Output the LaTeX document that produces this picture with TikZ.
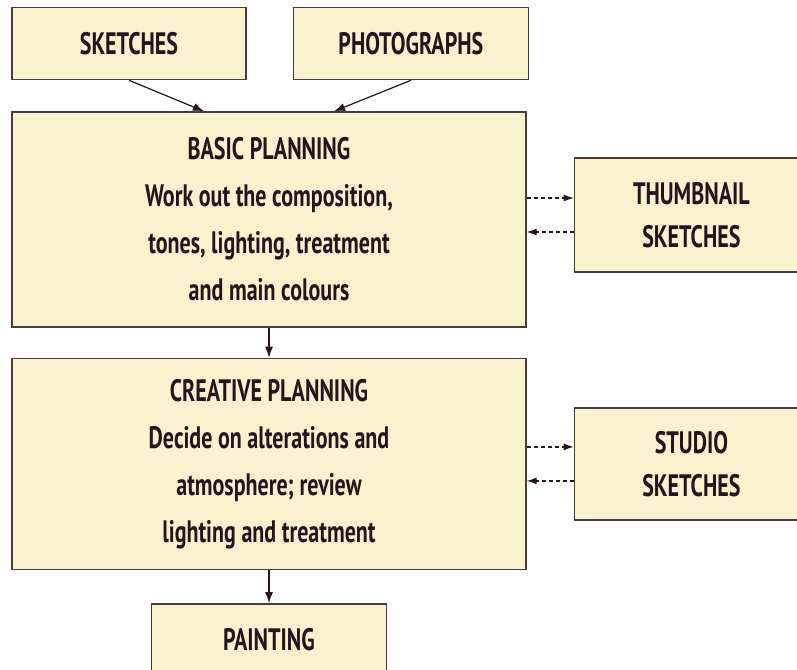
\documentclass[tikz,border=0pt]{standalone}
\usepackage{fontspec}
\setmainfont{PT Sans}[FakeStretch=0.71]
\usetikzlibrary{positioning,arrows.meta}
\definecolor{boxfill}{RGB}{250,242,206}
\definecolor{boxline}{RGB}{70,60,62}
\definecolor{inkdark}{RGB}{38,20,28}

\begin{document}
\begin{tikzpicture}[x=1pt, y=-1pt,
  every node/.style={font=\bfseries\fontsize{31}{47}\selectfont, text=inkdark},
  box/.style={draw=boxline, fill=boxfill, line width=1.4pt, align=center, inner sep=0pt},
  sidebox/.style={box, font=\bfseries\fontsize{31}{43}\selectfont, minimum width=234pt},
  flow/.style={-{Latex[length=11pt,width=8pt]}, draw=inkdark, line width=1.2pt},
  dasharrow/.style={-{Latex[length=10pt,width=7pt]}, draw=inkdark, line width=1.2pt, dash pattern=on 4pt off 3pt}]
  \useasboundingbox (0,0) rectangle (797,669);

  % main column
  \node[box, minimum width=514pt, minimum height=215pt] (basic) at (269,219.5)
    {BASIC PLANNING\\Work out the composition,\\tones, lighting, treatment\\and main colours};
  \node[box, minimum width=234pt, minimum height=72pt, above right=31pt and 0pt of basic.north west] (sketches) {SKETCHES};
  \node[box, minimum width=235pt, minimum height=72pt, right=46pt of sketches] (photos) {PHOTOGRAPHS};
  \node[box, minimum width=514pt, minimum height=211pt, below=30pt of basic] (creative)
    {CREATIVE PLANNING\\Decide on alterations and\\atmosphere; review\\lighting and treatment};
  \node[box, minimum width=235pt, minimum height=72pt, below=33pt of creative] (painting) {PAINTING};

  % side boxes
  \node[sidebox, minimum height=114pt, right=47pt of basic, yshift=4.5pt] (thumb) {THUMBNAIL\\SKETCHES};
  \node[sidebox, minimum height=112pt, right=47pt of creative] (studio) {STUDIO\\SKETCHES};

  \draw[flow] (sketches.south) -- ([xshift=-65pt]basic.north);
  \draw[flow] (photos.south) -- ([xshift=65pt]basic.north);
  \draw[flow] (basic) -- (creative);
  \draw[flow] (creative) -- (painting);

  \draw[dasharrow] ([yshift=17pt]thumb.west -| basic.east) -- ([yshift=17pt]thumb.west);
  \draw[dasharrow] ([yshift=-17pt]thumb.west) -- ([yshift=-17pt]thumb.west -| basic.east);
  \draw[dasharrow] ([yshift=17pt]studio.west -| creative.east) -- ([yshift=17pt]studio.west);
  \draw[dasharrow] ([yshift=-17pt]studio.west) -- ([yshift=-17pt]studio.west -| creative.east);
\end{tikzpicture}
\end{document}
